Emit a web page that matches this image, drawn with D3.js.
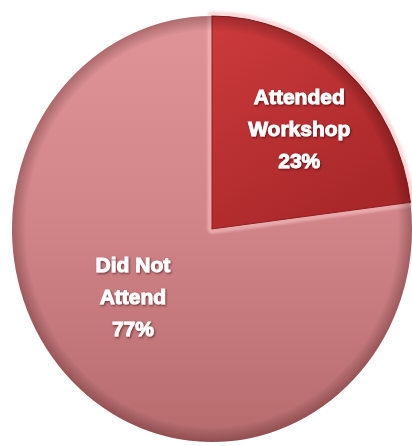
<!DOCTYPE html>
<html>
<head>
<meta charset="utf-8">
<script src="https://cdn.jsdelivr.net/npm/d3@7"></script>
<style>
  html, body { margin: 0; padding: 0; background: #ffffff; }
  svg { display: block; }
</style>
</head>
<body>
<svg id="chart" width="412" height="446"></svg>
<script>
// Workshop attendance share
const categories = ["Attended Workshop", "Did Not Attend"];
const labelLines = [["Attended", "Workshop"], ["Did Not", "Attend"]];
const values = [23, 77];

const W = 412, H = 446;
const cx = 212, cy = 229;
const r = 200;
const squash = 1.065;            // pie is drawn slightly taller than wide
const labelRadius = [0.66, 0.53];
const labelNudge = [[0, 4], [-9, -18]];   // best-fit style label placement tweaks
const lineGap = 32;

const svg = d3.select("#chart");
const defs = svg.append("defs");

// fills
const g1 = defs.append("linearGradient").attr("id", "gradDark")
  .attr("x1", "0").attr("y1", "0").attr("x2", "0.6").attr("y2", "1");
g1.append("stop").attr("offset", "0%").attr("stop-color", "#cd3b3d");
g1.append("stop").attr("offset", "100%").attr("stop-color", "#a82729");

const g2 = defs.append("linearGradient").attr("id", "gradLight")
  .attr("x1", "0").attr("y1", "0").attr("x2", "0").attr("y2", "1");
g2.append("stop").attr("offset", "0%").attr("stop-color", "#e09497");
g2.append("stop").attr("offset", "45%").attr("stop-color", "#d3868a");
g2.append("stop").attr("offset", "100%").attr("stop-color", "#b66b6d");

const rim = defs.append("radialGradient").attr("id", "rim")
  .attr("cx", "0.5").attr("cy", "0.5").attr("r", "0.5");
rim.append("stop").attr("offset", "93%").attr("stop-color", "#000").attr("stop-opacity", 0);
rim.append("stop").attr("offset", "100%").attr("stop-color", "#3a0000").attr("stop-opacity", 0.28);

const shadow = defs.append("filter").attr("id", "txtShadow")
  .attr("x", "-20%").attr("y", "-20%").attr("width", "140%").attr("height", "140%");
shadow.append("feDropShadow").attr("dx", 1).attr("dy", 1.2)
  .attr("stdDeviation", 1).attr("flood-color", "#300").attr("flood-opacity", 0.6);

const soft = defs.append("filter").attr("id", "soft");
soft.append("feGaussianBlur").attr("stdDeviation", 1.2);

const pie = d3.pie().sort(null).value(d => d).startAngle(0).endAngle(2 * Math.PI);
const arcs = pie(values);
const arc = d3.arc().innerRadius(0).outerRadius(r);
const fills = ["url(#gradDark)", "url(#gradLight)"];

const plot = svg.append("g")
  .attr("transform", `translate(${cx},${cy}) scale(1,${squash})`);

// light slice first, then highlight band around the dark slice, then dark slice
plot.append("path").attr("d", arc(arcs[1])).attr("fill", fills[1]);

plot.append("path").attr("d", arc(arcs[0]))
  .attr("fill", "none").attr("stroke", "#f6c2c3").attr("stroke-opacity", 0.6)
  .attr("stroke-width", 9).attr("stroke-linejoin", "round").attr("filter", "url(#soft)");

plot.append("path").attr("d", arc(arcs[0])).attr("fill", fills[0])
  .attr("stroke", "#8c1e20").attr("stroke-width", 1);

// darker rim around the outside
plot.append("circle").attr("r", r).attr("fill", "url(#rim)");

// labels
const labels = svg.append("g")
  .attr("font-family", "'Liberation Sans', Arial, sans-serif")
  .attr("font-weight", "bold").attr("font-size", 21)
  .attr("fill", "#ffffff").attr("stroke", "#ffffff").attr("stroke-width", 0.9)
  .attr("text-anchor", "middle")
  .attr("filter", "url(#txtShadow)");

arcs.forEach((a, i) => {
  const la = d3.arc().innerRadius(r * labelRadius[i]).outerRadius(r * labelRadius[i]);
  const [lx, ly] = la.centroid(a);
  const x = cx + lx + labelNudge[i][0];
  const y = cy + ly * squash + labelNudge[i][1];
  const lines = labelLines[i].concat([Math.round(a.value / d3.sum(values) * 100) + "%"]);
  const t = labels.append("text").attr("x", x).attr("y", y - lineGap + 8);
  lines.forEach((s, k) => {
    t.append("tspan").attr("x", x).attr("dy", k === 0 ? 0 : lineGap).text(s);
  });
});
</script>
</body>
</html>
